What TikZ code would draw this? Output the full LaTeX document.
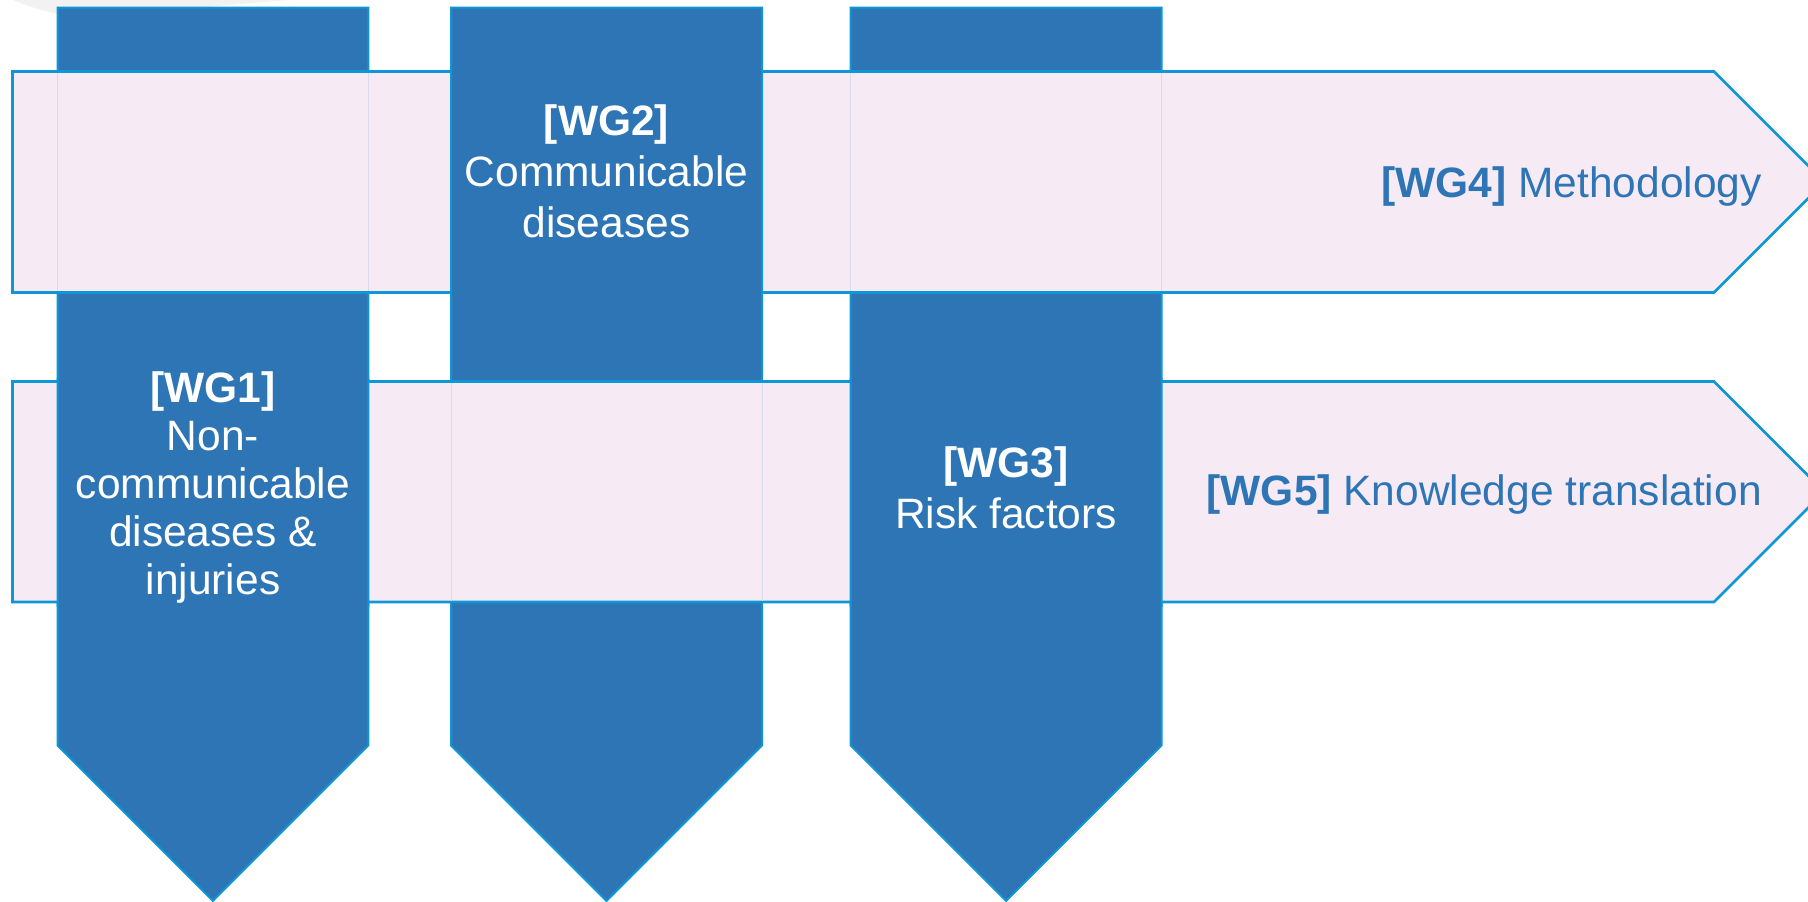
\documentclass[tikz,border=0pt]{standalone}
\usepackage{fontspec}
\setmainfont{Liberation Sans}
\definecolor{wgblue}{HTML}{2E75B6}
\definecolor{wgedge}{HTML}{0E96D6}
\definecolor{wgpink}{HTML}{F6EBF5}
\definecolor{wgfaint}{HTML}{DADCEE}
\definecolor{wggray}{HTML}{F2F2F2}
\tikzset{
  vbar/.style={fill=wgblue, draw=wgedge, line width=2pt, line join=miter},
  hband/.style={fill=wgpink, draw=wgedge, line width=2.6pt, line join=miter},
  faint/.style={draw=wgfaint, line width=1pt},
  vtext/.style={text=white, align=center, font=\fontsize{42.5}{50}\selectfont, inner sep=0pt, anchor=base},
  htext/.style={text=wgblue, font=\fontsize{42.5}{50}\selectfont, inner sep=0pt, anchor=base east},
}
\begin{document}
\begin{tikzpicture}[x=1pt, y=-1pt]
\useasboundingbox (0,0) rectangle (1808,902);
\clip (0,0) rectangle (1808,902);
% faint background shape
\fill[wggray] (13,0) .. controls (40,11) and (60,16) .. (90,17) .. controls (130,17) and (200,6) .. (290,0) -- cycle;
% WG1 and WG3 vertical arrows
\path[vbar] (57.5,7.5) -- (368.3,7.5) -- (368.3,745.5) -- (212.9,900.9) -- (57.5,745.5) -- cycle;
\path[vbar] (850.7,7.5) -- (1161.5,7.5) -- (1161.5,745.5) -- (1006.1,900.9) -- (850.7,745.5) -- cycle;
% top band
\path[hband] (12.5,71.5) -- (1714,71.5) -- (1824.5,182) -- (1714,292.5) -- (12.5,292.5) -- cycle;
\draw[faint] (57.5,73) -- (57.5,291) (368.3,73) -- (368.3,291);
\draw[faint] (850.7,73) -- (850.7,291) (1161.5,73) -- (1161.5,291);
% WG2 vertical arrow
\path[vbar] (451,7.5) -- (762,7.5) -- (762,745.5) -- (606.5,901) -- (451,745.5) -- cycle;
% bottom band
\path[hband] (12.5,381.5) -- (1714,381.5) -- (1824.25,491.75) -- (1714,602) -- (12.5,602) -- cycle;
\draw[faint] (451,383) -- (451,600.5) (762,383) -- (762,600.5);
% WG1 and WG3 over the bottom band
\begin{scope}
\clip (0,378) rectangle (1808,606);
\path[vbar] (57.5,7.5) -- (368.3,7.5) -- (368.3,745.5) -- (212.9,900.9) -- (57.5,745.5) -- cycle;
\path[vbar] (850.7,7.5) -- (1161.5,7.5) -- (1161.5,745.5) -- (1006.1,900.9) -- (850.7,745.5) -- cycle;
\end{scope}
% texts (anchor = baseline of the last line)
\node[vtext, font=\fontsize{42.5}{48}\selectfont] (wg1) at (213,594) {\textbf{[WG1]}\\Non-\\communicable\\diseases \&\\injuries};
\node[vtext, font=\fontsize{42.5}{51}\selectfont] (wg2) at (606.5,237) {\textbf{[WG2]}\\Communicable\\diseases};
\node[vtext, font=\fontsize{42.5}{51}\selectfont] (wg3) at (1006,528) {\textbf{[WG3]}\\Risk factors};
\node[htext] (wg4) at (1762,197) {\textbf{[WG4]} Methodology};
\node[htext] (wg5) at (1762,505) {\textbf{[WG5]} Knowledge translation};
\end{tikzpicture}
\end{document}
